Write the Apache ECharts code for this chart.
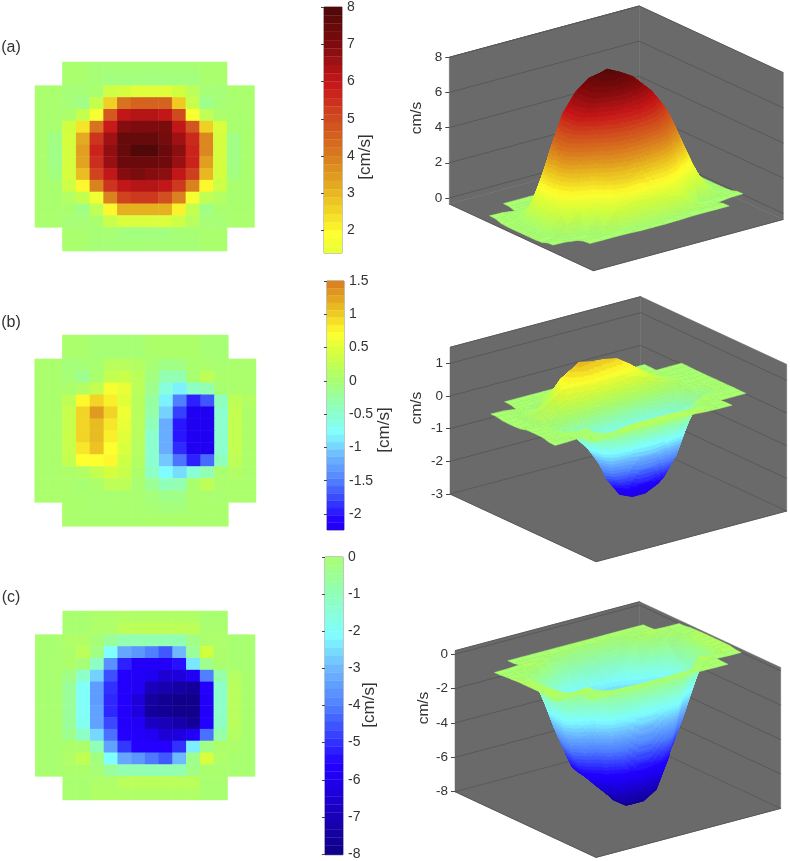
<!DOCTYPE html>
<html>
<head>
<meta charset="utf-8">
<title>Velocity maps</title>
<style>
  html, body { margin: 0; padding: 0; background: #fff; }
  #chart { width: 790px; height: 861px; }
</style>
<script src="https://cdn.jsdelivr.net/npm/echarts@6/dist/echarts.min.js"></script>
</head>
<body>
<div id="chart"></div>
<script>
// cell values read from the three maps, [cm/s], null = no measurement
var _ = null;
var mapA = [
  [_,_,.05,.05,-.1,-.1,-.1,-.1,-.1,-.1,-.1,-.1,.05,.05,_,_],
  [_,_,.05,.05,-.1,-.2,-.2,-.2,-.2,-.2,-.2,-.2,.05,.05,_,_],
  [.05,.05,-.1,-.1,.05,.9,1.1,1.3,1.3,1.3,1.0,.5,-.1,-.1,.05,.05],
  [.05,.05,-.1,-.3,.7,2.6,4.2,4.5,4.5,4.5,2.7,.8,-.4,-.1,.05,.05],
  [.05,.05,.1,.7,1.7,4.7,6.0,6.2,6.2,6.0,5.0,1.85,.6,.1,.05,.05],
  [.05,0,1.0,2.3,4.2,5.9,6.9,7.0,7.0,7.1,6.0,4.8,2.6,1.2,0,.05],
  [.05,-.3,1.1,3.2,5.4,6.5,7.5,7.5,7.5,7.2,6.5,5.6,3.8,1.1,-.3,.05],
  [.05,-.3,1.1,3.4,5.7,6.7,7.5,7.95,7.95,7.4,6.8,5.7,3.8,1.1,-.3,.05],
  [.05,-.3,1.1,3.3,5.5,6.6,7.4,7.4,7.4,7.3,6.6,5.7,3.4,1.1,-.3,.05],
  [.05,-.2,1.1,2.9,5.1,6.0,6.9,7.1,6.9,6.8,6.0,5.2,3.0,1.1,-.2,.05],
  [.05,.05,.9,2.0,3.9,5.4,6.0,6.2,6.2,6.0,5.3,3.9,2.0,.9,.05,.05],
  [.05,.05,.3,.7,1.6,3.9,5.1,5.3,5.3,4.9,3.9,1.7,.6,.3,.05,.05],
  [.05,.05,.05,-.3,.6,2.0,3.1,3.1,3.1,3.1,2.1,.7,-.3,.05,.05,.05],
  [.05,.05,-.1,-.1,.05,.8,1.2,1.2,1.2,1.2,.9,.4,-.1,-.1,.05,.05],
  [_,_,.05,.05,-.05,-.05,-.2,-.2,-.2,-.2,-.1,-.05,.05,.05,_,_],
  [_,_,.05,.05,-.1,-.1,-.1,-.1,-.1,-.1,-.1,-.1,.05,.05,_,_]
];
var mapB = [
  [_,_,.03,.03,-.02,-.02,-.02,-.02,.05,.05,.05,.05,-.02,-.02,_,_],
  [_,_,.03,.03,-.02,-.02,-.02,-.02,.05,.05,.05,.05,-.02,-.02,_,_],
  [.03,.03,-.05,-.03,0,.15,.15,.1,-.02,-.12,-.1,.02,.03,0,.03,.03],
  [.03,.03,-.03,-.17,.02,.25,.3,.17,-.08,-.35,-.35,0,.2,.03,.03,.03],
  [.03,.03,.03,.1,.25,.65,.55,.17,-.15,-.6,-.85,-.45,-.35,0,.03,.03],
  [.03,.03,.2,.75,.95,.8,.5,.15,-.25,-.85,-1.5,-1.95,-1.7,-.4,.2,.1],
  [.03,.03,.3,.95,1.3,.95,.6,.15,-.3,-1.0,-1.8,-2.45,-2.3,-.5,.25,.05],
  [.03,.03,.3,.95,1.1,.85,.55,.15,-.4,-1.2,-2.0,-2.6,-2.35,-.5,.25,.05],
  [.03,.03,.3,.95,1.1,.8,.5,.15,-.5,-1.2,-2.0,-2.6,-2.35,-.5,.25,.05],
  [.03,.03,.3,.85,1.05,.7,.45,.12,-.5,-1.2,-1.9,-2.4,-2.25,-.5,.25,.05],
  [.03,.03,.25,.7,.7,.75,.35,.1,-.5,-1.05,-1.55,-1.95,-1.6,-.4,.2,.05],
  [.03,.03,.05,.1,.25,.4,.3,.05,-.45,-.8,-.95,-.55,-.35,0,.1,.03],
  [.03,.03,.03,-.02,.05,.2,.2,0,-.2,-.4,-.35,.02,.2,.03,.03,.03],
  [.03,.03,.02,.02,0,0,.02,0,-.05,-.12,-.12,.02,.03,0,.03,.03],
  [_,_,.03,.03,.01,.01,.01,.01,-.02,-.05,-.05,.02,.02,.02,_,_],
  [_,_,.03,.03,.02,.02,.02,.02,.03,.03,.03,.03,.02,.02,_,_]
];
var mapC = [
  [_,_,0,0,.06,.06,.08,.08,.08,.08,.08,.08,0,0,_,_],
  [_,_,0,0,.06,.06,.2,.2,.2,.2,.2,.2,.02,.02,_,_],
  [0,0,.08,.08,-.1,-.6,-.9,-.9,-.9,-.9,-.9,-.3,.04,.06,0,0],
  [0,0,.04,.2,-.25,-2.1,-3.3,-3.6,-4.0,-4.5,-3.0,-.6,.4,.04,0,0],
  [0,0,.04,-.1,-1.2,-3.7,-5.2,-5.8,-5.8,-5.8,-5.4,-2.4,-.4,.02,0,0],
  [0,0,-.3,-1.3,-2.7,-4.6,-5.7,-5.8,-6.0,-6.5,-6.4,-5.9,-4.0,-.8,.12,.02],
  [0,0,-.6,-2.0,-3.5,-5.0,-5.7,-5.9,-7.0,-7.2,-7.4,-7.6,-5.7,-1.3,.16,.02],
  [0,0,-.6,-2.0,-3.5,-5.1,-5.7,-6.4,-7.5,-7.8,-7.9,-7.9,-5.8,-1.3,.16,.02],
  [0,0,-.6,-2.0,-3.4,-5.1,-5.7,-6.3,-7.6,-7.7,-7.9,-7.9,-5.8,-1.3,.16,.02],
  [0,0,-.6,-1.9,-3.4,-4.7,-5.7,-5.9,-6.8,-7.0,-7.3,-7.6,-5.6,-1.2,.16,.02],
  [0,0,-.4,-1.2,-2.6,-4.2,-5.6,-5.7,-5.9,-6.5,-6.3,-5.8,-4.2,-.8,.12,.02],
  [0,0,.04,.04,-1.0,-3.4,-4.9,-5.6,-5.6,-5.6,-5.0,-2.3,-.3,.04,.04,0],
  [0,0,.08,.25,-.2,-2.1,-3.3,-3.6,-4.1,-4.5,-3.0,-.4,.45,.06,0,0],
  [0,0,.04,.04,-.1,-.6,-.9,-.9,-.9,-.9,-.9,-.3,.02,.02,0,0],
  [_,_,0,0,.06,.06,.18,.18,.18,.18,.18,.18,0,0,_,_],
  [_,_,0,0,.08,.08,.08,.08,.08,.08,.08,.08,0,0,_,_]
];
var maps = [mapA, mapB, mapC];

var colIndex = [0,1,2,3,4,5,6,7,8,9,10,11,12,13,14,15];
var rowIndex = [0,1,2,3,4,5,6,7,8,9,10,11,12,13,14,15];

// tick labels
var barTicks = [
  [2,3,4,5,6,7,8],
  [-2,-1.5,-1,-0.5,0,0.5,1,1.5],
  [-8,-7,-6,-5,-4,-3,-2,-1,0]
];
var surfTicks = [
  [0,2,4,6,8],
  [-3,-2,-1,0,1],
  [-8,-6,-4,-2,0]
];
var panelNames = ['(a)', '(b)', '(c)'];

// colour map, values given for a +-8 range
var cmapAt = [-8,-7,-6,-5.6,-5,-4,-3,-2.1,-1,0,1,1.9,2.6,3.3,4,5,5.9,7,8];
var cmapColor = ['#0f0087','#1a00b8','#2000f0','#2400ff','#3030ff','#5080ff','#6eb8ff','#80ffff','#90ffb8','#a8ff70',
  '#d0ff40','#ffff2e','#f0d024','#e2a420','#d97c20','#d04a20','#c8181a','#7e0c0e','#4e0808'];
var scaleNeg = [8, 3, 8];     // range of each panel below zero
var scalePos = [8, 3, 3.2];   // and above zero
var bandStep = [0.2222, 0.11, 0.2222];

// positions
var heatBox = [
  { left: 35, top: 62, width: 219.5, height: 189 },
  { left: 34.7, top: 335, width: 221.3, height: 191.3 },
  { left: 35.3, top: 611, width: 219.7, height: 189 }
];
var barBox = [
  { left: 324, top: 6, width: 18, height: 247, min: 1.4, max: 8 },
  { left: 327, top: 281, width: 17, height: 249, min: -2.24, max: 1.5 },
  { left: 325, top: 557, width: 18, height: 298, min: -8.02, max: 0 }
];
var cube = [
  { left: 449.3, top: 57.3, width: 334, height: 146.7, zMin: -0.345, zMax: 8, a: [144, 66.7], b: [190, -51.3] },
  { left: 450, top: 347.3, width: 336.7, height: 146.7, zMin: -3, zMax: 1.49, a: [146, 67.7], b: [190.7, -50.7] },
  { left: 455, top: 650.7, width: 325.7, height: 141, zMin: -8, zMax: 0.2, a: [141, 65.7], b: [184.7, -49] }
];
var uRange = [0.2, 0.8];   // the map only fills this part of the box along its columns

var FONT = '"Liberation Sans", Arial, sans-serif';
var TXT = '#333';
var WALL = '#6a6a6a';
var WALL_LINE = '#585858';

function toRgb(c) {
  return [parseInt(c.substr(1, 2), 16), parseInt(c.substr(3, 2), 16), parseInt(c.substr(5, 2), 16)];
}
function colorOf(val, p) {
  if (p === 1) val = Math.max(val, barBox[1].min);   // colour axis stops at the bar's end
  var t = val / (val < 0 ? scaleNeg[p] : scalePos[p]) * 8;
  if (t <= cmapAt[0]) return cmapColor[0];
  for (var i = 1; i < cmapAt.length; i++) {
    if (t <= cmapAt[i]) {
      var k = (t - cmapAt[i - 1]) / (cmapAt[i] - cmapAt[i - 1]);
      var c0 = toRgb(cmapColor[i - 1]), c1 = toRgb(cmapColor[i]);
      return 'rgb(' + Math.round(c0[0] + (c1[0] - c0[0]) * k) + ',' +
        Math.round(c0[1] + (c1[1] - c0[1]) * k) + ',' +
        Math.round(c0[2] + (c1[2] - c0[2]) * k) + ')';
    }
  }
  return cmapColor[cmapColor.length - 1];
}
function bandColor(val, p) {
  var step = val < 0 ? bandStep[p] : bandStep[p] * scalePos[p] / scaleNeg[p];
  return colorOf(Math.round(val / step) * step, p);
}

// box coords -> data coords of the hidden x axis (px) and the visible z axis
function projector(p) {
  var c = cube[p];
  var unit = c.height / (c.zMax - c.zMin);
  return function (u, v, z) {
    return [u * c.a[0] + v * c.b[0], z - (u * c.a[1] + v * c.b[1]) / unit];
  };
}

function heatData(p) {
  var out = [];
  maps[p].forEach(function (row, r) {
    row.forEach(function (val, c) {
      if (val === null) return;
      out.push({ value: [c, r, val], itemStyle: { color: colorOf(val, p) } });
    });
  });
  return out;
}

function barData(p) {
  var out = [], box = barBox[p], step = bandStep[p];
  for (var hi = box.max; hi > box.min; hi -= step) {
    out.push([Math.max(hi - step, box.min), hi]);
  }
  return out;
}
function renderBand(p) {
  return function (params, api) {
    var lo = api.value(0), hi = api.value(1);
    var a = api.coord([0, hi]), b = api.coord([1, lo]);
    return {
      type: 'rect',
      shape: { x: a[0], y: a[1], width: b[0] - a[0], height: b[1] - a[1] },
      style: { fill: colorOf((lo + hi) / 2, p), stroke: colorOf((lo + hi) / 2, p), lineWidth: 0.3 },
      silent: true
    };
  };
}

function renderBox(p) {
  var proj = projector(p), c = cube[p];
  return function (params, api) {
    function pt(u, v, z) { return api.coord(proj(u, v, z)); }
    function poly(pts) {
      return { type: 'polygon', shape: { points: pts }, style: { fill: WALL, stroke: WALL, lineWidth: 0.5 }, silent: true };
    }
    function line(pts) {
      return { type: 'polyline', shape: { points: pts }, style: { fill: null, stroke: WALL_LINE, lineWidth: 1 }, silent: true };
    }
    var kids = [
      poly([pt(0,0,c.zMin), pt(1,0,c.zMin), pt(1,1,c.zMin), pt(0,1,c.zMin)]),
      poly([pt(0,0,c.zMin), pt(0,1,c.zMin), pt(0,1,c.zMax), pt(0,0,c.zMax)]),
      poly([pt(0,1,c.zMin), pt(1,1,c.zMin), pt(1,1,c.zMax), pt(0,1,c.zMax)])
    ];
    surfTicks[p].forEach(function (z) {
      kids.push(line([pt(0,0,z), pt(0,1,z), pt(1,1,z)]));
    });
    kids.push(line([pt(0,0,c.zMin), pt(1,0,c.zMin), pt(1,1,c.zMin)]));
    kids.push(line([pt(0,0,c.zMax), pt(0,1,c.zMax)]));
    return { type: 'group', children: kids };
  };
}

// the surfaces look softer than the cell readings
function softened(m) {
  return m.map(function (row, r) {
    return row.map(function (val, c) {
      if (val === null) return null;
      var sum = 0, wt = 0;
      for (var dr = -1; dr <= 1; dr++) {
        for (var dc = -1; dc <= 1; dc++) {
          var nb = m[r + dr] ? m[r + dr][c + dc] : undefined;
          if (nb === undefined || nb === null) continue;
          var w = (dr ? 1 : 6) * (dc ? 1 : 6);
          sum += nb * w;
          wt += w;
        }
      }
      return sum / wt;
    });
  });
}

// far cells first so the nearer ones paint over them
function surfCells(p) {
  var out = [], m = maps[p];
  for (var r = m.length - 2; r >= 0; r--) {
    for (var c = 0; c < m[r].length - 1; c++) {
      if (m[r][c] === null || m[r][c + 1] === null || m[r + 1][c] === null || m[r + 1][c + 1] === null) continue;
      out.push([c, r]);
    }
  }
  return out;
}
function renderCell(p) {
  var proj = projector(p), m = softened(maps[p]), step = bandStep[p];
  var nc = m[0].length - 1, nr = m.length - 1;
  return function (params, api) {
    var c = api.value(0), r = api.value(1);
    var z00 = m[r][c], z10 = m[r][c + 1], z01 = m[r + 1][c], z11 = m[r + 1][c + 1];
    var range = Math.max(z00, z10, z01, z11) - Math.min(z00, z10, z01, z11);
    var n = Math.min(24, Math.max(1, Math.ceil(range / step * 2.5)));
    function zAt(s, t) {
      return z00 * (1 - s) * (1 - t) + z10 * s * (1 - t) + z01 * (1 - s) * t + z11 * s * t;
    }
    function pt(s, t) {
      var u = uRange[0] + (uRange[1] - uRange[0]) * (c + s) / nc;
      var v = (r + t) / nr;
      return api.coord(proj(u, v, zAt(s, t)));
    }
    var kids = [];
    for (var j = n - 1; j >= 0; j--) {
      for (var i = 0; i < n; i++) {
        var col = bandColor(zAt((i + .5) / n, (j + .5) / n), p);
        kids.push({
          type: 'polygon',
          shape: { points: [pt(i / n, j / n), pt((i + 1) / n, j / n), pt((i + 1) / n, (j + 1) / n), pt(i / n, (j + 1) / n)] },
          style: { fill: col, stroke: col, lineWidth: 0.5 },
          silent: true
        });
      }
    }
    return { type: 'group', children: kids };
  };
}

var grids = [], xAxes = [], yAxes = [], series = [];
function addGrid(g, x, y) {
  var idx = grids.length;
  x.gridIndex = idx;
  y.gridIndex = idx;
  grids.push(g); xAxes.push(x); yAxes.push(y);
  return idx;
}

[0, 1, 2].forEach(function (p) {
  // flat map
  var hb = heatBox[p];
  var g1 = addGrid(
    { left: hb.left, top: hb.top, width: hb.width, height: hb.height },
    { type: 'category', data: colIndex, show: false },
    { type: 'category', data: rowIndex, inverse: true, show: false }
  );
  series.push({
    type: 'heatmap', xAxisIndex: g1, yAxisIndex: g1, data: heatData(p), silent: true,
    progressive: 0, itemStyle: { borderWidth: 0 }
  });

  // colour bar
  var bb = barBox[p];
  var g2 = addGrid(
    { left: bb.left, top: bb.top, width: bb.width, height: bb.height, show: true, borderColor: '#8a8a8a', borderWidth: 1, backgroundColor: 'transparent' },
    { type: 'value', min: 0, max: 1, show: false },
    {
      type: 'value', position: 'right', min: bb.min, max: bb.max, splitLine: { show: false },
      axisLine: { show: false },
      axisTick: { show: true, inside: true, length: 3, lineStyle: { color: '#444' }, customValues: barTicks[p] },
      axisLabel: { show: true, margin: 5, color: TXT, fontFamily: FONT, fontSize: 14, customValues: barTicks[p] }
    }
  );
  series.push({
    type: 'custom', xAxisIndex: g2, yAxisIndex: g2, data: barData(p),
    renderItem: renderBand(p), silent: true, progressive: 0
  });

  // box and surface
  var cb = cube[p];
  var g3 = addGrid(
    { left: cb.left, top: cb.top, width: cb.width, height: cb.height },
    { type: 'value', min: 0, max: cb.width, show: false },
    {
      type: 'value', min: cb.zMin, max: cb.zMax, splitLine: { show: false },
      axisLine: { show: false },
      axisTick: { show: true, length: 4, lineStyle: { color: '#444' }, customValues: surfTicks[p] },
      axisLabel: { show: true, margin: 7, color: TXT, fontFamily: FONT, fontSize: 13.5, customValues: surfTicks[p] }
    }
  );
  series.push({
    type: 'custom', xAxisIndex: g3, yAxisIndex: g3, data: [[0, 0]],
    renderItem: renderBox(p), silent: true, progressive: 0, clip: false
  });
  series.push({
    type: 'custom', xAxisIndex: g3, yAxisIndex: g3, data: surfCells(p),
    renderItem: renderCell(p), silent: true, progressive: 0, clip: false
  });
});

function label(text, x, y, rotated, size) {
  return {
    type: 'text', x: x, y: y, rotation: rotated ? Math.PI / 2 : 0, silent: true, z: 10,
    style: { text: text, fill: TXT, font: size + 'px ' + FONT, textAlign: 'center', textVerticalAlign: 'middle' }
  };
}

var chart = echarts.init(document.getElementById('chart'), null, { renderer: 'canvas', width: 790, height: 861 });
chart.setOption({
  animation: false,
  backgroundColor: '#fff',
  tooltip: { show: false },
  grid: grids,
  xAxis: xAxes,
  yAxis: yAxes,
  series: series,
  graphic: [
    label(panelNames[0], 11, 48, false, 16),
    label(panelNames[1], 11, 323, false, 16),
    label(panelNames[2], 11, 598, false, 16),
    label('[cm/s]', 365, 157, true, 17),
    label('[cm/s]', 384, 430, true, 17),
    label('[cm/s]', 369, 705, true, 17),
    label('cm/s', 417, 118, true, 15.5),
    label('cm/s', 417, 408, true, 15.5),
    label('cm/s', 424, 708, true, 15.5)
  ]
});
</script>
</body>
</html>
